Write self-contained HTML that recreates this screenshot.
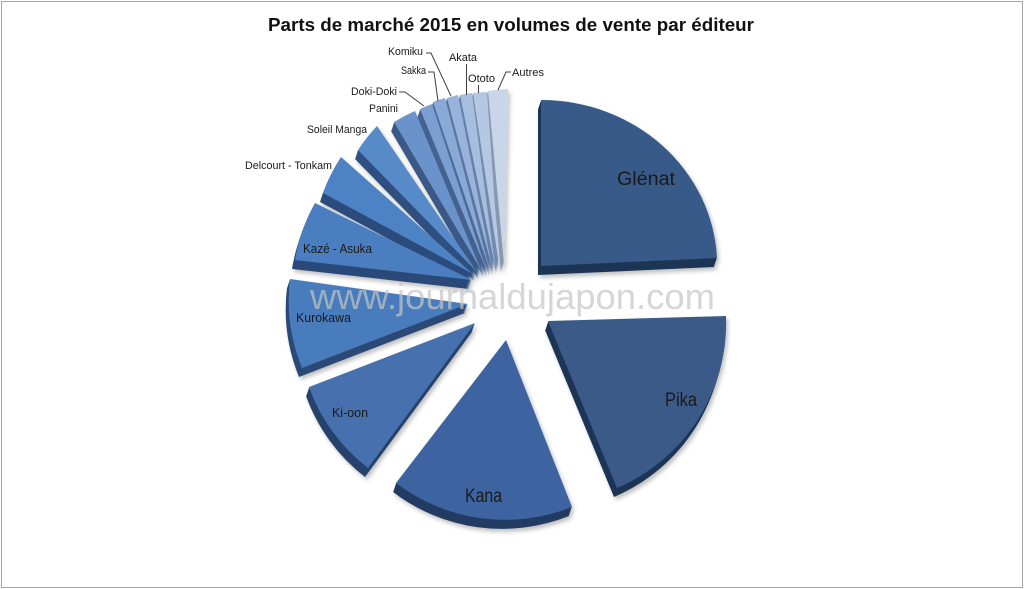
<!DOCTYPE html>
<html>
<head>
<meta charset="utf-8">
<style>
  html,body{margin:0;padding:0;background:#fff;}
  svg{display:block;}
  .lbl{font-family:"Liberation Sans",sans-serif;fill:#1a1a1a;}
</style>
</head>
<body>
<svg width="1024" height="589" viewBox="0 0 1024 589" xmlns="http://www.w3.org/2000/svg">
  <defs>
    <filter id="sh" x="-10%" y="-10%" width="120%" height="120%">
      <feDropShadow dx="2" dy="3" stdDeviation="2" flood-color="#000" flood-opacity="0.25"/>
    </filter>
    <path id="gl" d="M541,266 L541,100 A176,166 0 0 1 717,258 Z"/>
    <path id="pi" d="M548,321 L726,316 A179.5,179.5 0 0 1 617,488 Z"/>
    <path id="ka" d="M506,340 L572,507 A180,180 0 0 1 396,483 Z"/>
    <path id="ki" d="M475,323 L368,468 A179,179 0 0 1 309,387 Z"/>
    <path id="ku" d="M468,304 L302,368 A179,179 0 0 1 290,279 Z"/>
    <path id="kz" d="M472,280 L295,260 A176.5,176.5 0 0 1 315,203 Z"/>
    <path id="de" d="M473,274 L323,193 A173,173 0 0 1 341,157 Z"/>
    <path id="so" d="M477,272 L358,150 A173.5,173.5 0 0 1 377,126 Z"/>
    <path id="pa" d="M481,270 L394,122 A172,172 0 0 1 415,111 Z"/>
    <path id="do" d="M486,269 L420,109 A173,173 0 0 1 432,104 Z"/>
    <path id="sa" d="M489,268 L433,102 A175,175 0 0 1 445,98 Z"/>
    <path id="ko" d="M492,267 L447,98 A175,175 0 0 1 458,95 Z"/>
    <path id="ak" d="M495,266 L460,95 A174.5,174.5 0 0 1 472,93 Z"/>
    <path id="ot" d="M499,265 L473,93 A174,174 0 0 1 487,92 Z"/>
    <path id="au" d="M504,264 L488,91 A174,174 0 0 1 508,89 Z"/>
  </defs>

  <rect x="0" y="0" width="1024" height="589" fill="#fff"/>
  <rect x="1.5" y="1.5" width="1021" height="586" fill="none" stroke="#a6a6a6" stroke-width="1"/>

  <text x="268" y="31" font-family="Liberation Sans, sans-serif" font-weight="bold" font-size="18" fill="#111" textLength="486" lengthAdjust="spacingAndGlyphs">Parts de marché 2015 en volumes de vente par éditeur</text>

  <g filter="url(#sh)">
    <g fill="#8898b2"><use href="#au" transform="translate(-0.33,1)"/><use href="#au" transform="translate(-0.67,2)"/><use href="#au" transform="translate(-1,3)"/><use href="#au" transform="translate(-1.33,4)"/><use href="#au" transform="translate(-1.67,5)"/><use href="#au" transform="translate(-2,6)"/><use href="#au" transform="translate(-2.33,7)"/><use href="#au" transform="translate(-2.67,8)"/><use href="#au" transform="translate(-3,9)"/></g>
    <use href="#au" fill="#c9d5e8"/>
    <g fill="#738cae"><use href="#ot" transform="translate(-0.33,1)"/><use href="#ot" transform="translate(-0.67,2)"/><use href="#ot" transform="translate(-1,3)"/><use href="#ot" transform="translate(-1.33,4)"/><use href="#ot" transform="translate(-1.67,5)"/><use href="#ot" transform="translate(-2,6)"/><use href="#ot" transform="translate(-2.33,7)"/><use href="#ot" transform="translate(-2.67,8)"/><use href="#ot" transform="translate(-3,9)"/></g>
    <use href="#ot" fill="#b6c7e4"/>
    <g fill="#6681a8"><use href="#ak" transform="translate(-0.33,1)"/><use href="#ak" transform="translate(-0.67,2)"/><use href="#ak" transform="translate(-1,3)"/><use href="#ak" transform="translate(-1.33,4)"/><use href="#ak" transform="translate(-1.67,5)"/><use href="#ak" transform="translate(-2,6)"/><use href="#ak" transform="translate(-2.33,7)"/><use href="#ak" transform="translate(-2.67,8)"/><use href="#ak" transform="translate(-3,9)"/></g>
    <use href="#ak" fill="#a7bee0"/>
    <g fill="#5a769f"><use href="#ko" transform="translate(-0.33,1)"/><use href="#ko" transform="translate(-0.67,2)"/><use href="#ko" transform="translate(-1,3)"/><use href="#ko" transform="translate(-1.33,4)"/><use href="#ko" transform="translate(-1.67,5)"/><use href="#ko" transform="translate(-2,6)"/><use href="#ko" transform="translate(-2.33,7)"/><use href="#ko" transform="translate(-2.67,8)"/><use href="#ko" transform="translate(-3,9)"/></g>
    <use href="#ko" fill="#99b3dc"/>
    <g fill="#4e6a96"><use href="#sa" transform="translate(-0.33,1)"/><use href="#sa" transform="translate(-0.67,2)"/><use href="#sa" transform="translate(-1,3)"/><use href="#sa" transform="translate(-1.33,4)"/><use href="#sa" transform="translate(-1.67,5)"/><use href="#sa" transform="translate(-2,6)"/><use href="#sa" transform="translate(-2.33,7)"/><use href="#sa" transform="translate(-2.67,8)"/><use href="#sa" transform="translate(-3,9)"/></g>
    <use href="#sa" fill="#89a9d6"/>
    <g fill="#45628f"><use href="#do" transform="translate(-0.33,1)"/><use href="#do" transform="translate(-0.67,2)"/><use href="#do" transform="translate(-1,3)"/><use href="#do" transform="translate(-1.33,4)"/><use href="#do" transform="translate(-1.67,5)"/><use href="#do" transform="translate(-2,6)"/><use href="#do" transform="translate(-2.33,7)"/><use href="#do" transform="translate(-2.67,8)"/><use href="#do" transform="translate(-3,9)"/></g>
    <use href="#do" fill="#7b9fd2"/>
    <g fill="#3a5986"><use href="#pa" transform="translate(-0.33,1)"/><use href="#pa" transform="translate(-0.67,2)"/><use href="#pa" transform="translate(-1,3)"/><use href="#pa" transform="translate(-1.33,4)"/><use href="#pa" transform="translate(-1.67,5)"/><use href="#pa" transform="translate(-2,6)"/><use href="#pa" transform="translate(-2.33,7)"/><use href="#pa" transform="translate(-2.67,8)"/><use href="#pa" transform="translate(-3,9)"/></g>
    <use href="#pa" fill="#6b93cb"/>
    <g fill="#2f507f"><use href="#so" transform="translate(-0.33,1)"/><use href="#so" transform="translate(-0.67,2)"/><use href="#so" transform="translate(-1,3)"/><use href="#so" transform="translate(-1.33,4)"/><use href="#so" transform="translate(-1.67,5)"/><use href="#so" transform="translate(-2,6)"/><use href="#so" transform="translate(-2.33,7)"/><use href="#so" transform="translate(-2.67,8)"/><use href="#so" transform="translate(-3,9)"/></g>
    <use href="#so" fill="#568ac8"/>
    <g fill="#2c4c7c"><use href="#de" transform="translate(-0.33,1)"/><use href="#de" transform="translate(-0.67,2)"/><use href="#de" transform="translate(-1,3)"/><use href="#de" transform="translate(-1.33,4)"/><use href="#de" transform="translate(-1.67,5)"/><use href="#de" transform="translate(-2,6)"/><use href="#de" transform="translate(-2.33,7)"/><use href="#de" transform="translate(-2.67,8)"/><use href="#de" transform="translate(-3,9)"/></g>
    <use href="#de" fill="#4e83c5"/>
    <g fill="#2b4a79"><use href="#kz" transform="translate(-0.33,1)"/><use href="#kz" transform="translate(-0.67,2)"/><use href="#kz" transform="translate(-1,3)"/><use href="#kz" transform="translate(-1.33,4)"/><use href="#kz" transform="translate(-1.67,5)"/><use href="#kz" transform="translate(-2,6)"/><use href="#kz" transform="translate(-2.33,7)"/><use href="#kz" transform="translate(-2.67,8)"/><use href="#kz" transform="translate(-3,9)"/></g>
    <use href="#kz" fill="#4b7ec0"/>
    <g fill="#2a4877"><use href="#ku" transform="translate(-0.33,1)"/><use href="#ku" transform="translate(-0.67,2)"/><use href="#ku" transform="translate(-1,3)"/><use href="#ku" transform="translate(-1.33,4)"/><use href="#ku" transform="translate(-1.67,5)"/><use href="#ku" transform="translate(-2,6)"/><use href="#ku" transform="translate(-2.33,7)"/><use href="#ku" transform="translate(-2.67,8)"/><use href="#ku" transform="translate(-3,9)"/></g>
    <use href="#ku" fill="#4a7bbd"/>
    <g fill="#27426c"><use href="#ki" transform="translate(-0.33,1)"/><use href="#ki" transform="translate(-0.67,2)"/><use href="#ki" transform="translate(-1,3)"/><use href="#ki" transform="translate(-1.33,4)"/><use href="#ki" transform="translate(-1.67,5)"/><use href="#ki" transform="translate(-2,6)"/><use href="#ki" transform="translate(-2.33,7)"/><use href="#ki" transform="translate(-2.67,8)"/><use href="#ki" transform="translate(-3,9)"/></g>
    <use href="#ki" fill="#4670ae"/>
    <g fill="#223a62"><use href="#ka" transform="translate(-0.33,1)"/><use href="#ka" transform="translate(-0.67,2)"/><use href="#ka" transform="translate(-1,3)"/><use href="#ka" transform="translate(-1.33,4)"/><use href="#ka" transform="translate(-1.67,5)"/><use href="#ka" transform="translate(-2,6)"/><use href="#ka" transform="translate(-2.33,7)"/><use href="#ka" transform="translate(-2.67,8)"/><use href="#ka" transform="translate(-3,9)"/></g>
    <use href="#ka" fill="#3e63a0"/>
    <g fill="#1f3556"><use href="#pi" transform="translate(-0.33,1)"/><use href="#pi" transform="translate(-0.67,2)"/><use href="#pi" transform="translate(-1,3)"/><use href="#pi" transform="translate(-1.33,4)"/><use href="#pi" transform="translate(-1.67,5)"/><use href="#pi" transform="translate(-2,6)"/><use href="#pi" transform="translate(-2.33,7)"/><use href="#pi" transform="translate(-2.67,8)"/><use href="#pi" transform="translate(-3,9)"/></g>
    <use href="#pi" fill="#3a5a87"/>
    <g fill="#1e3454"><use href="#gl" transform="translate(-0.33,1)"/><use href="#gl" transform="translate(-0.67,2)"/><use href="#gl" transform="translate(-1,3)"/><use href="#gl" transform="translate(-1.33,4)"/><use href="#gl" transform="translate(-1.67,5)"/><use href="#gl" transform="translate(-2,6)"/><use href="#gl" transform="translate(-2.33,7)"/><use href="#gl" transform="translate(-2.67,8)"/><use href="#gl" transform="translate(-3,9)"/></g>
    <use href="#gl" fill="#385a88"/>
  </g>

  <text class="lbl" x="617" y="185" font-size="19" textLength="58" lengthAdjust="spacingAndGlyphs">Glénat</text>
  <text class="lbl" x="665" y="406" font-size="19" textLength="32" lengthAdjust="spacingAndGlyphs">Pika</text>
  <text class="lbl" x="465" y="502" font-size="19" textLength="37" lengthAdjust="spacingAndGlyphs">Kana</text>
  <text class="lbl" x="332" y="417" font-size="13" textLength="36" lengthAdjust="spacingAndGlyphs">Ki-oon</text>
  <text class="lbl" x="296" y="322" font-size="13" textLength="55" lengthAdjust="spacingAndGlyphs">Kurokawa</text>
  <text class="lbl" x="303" y="253" font-size="13" textLength="69" lengthAdjust="spacingAndGlyphs">Kazé - Asuka</text>

  <text class="lbl" x="245" y="169" font-size="11" textLength="87" lengthAdjust="spacingAndGlyphs">Delcourt - Tonkam</text>
  <text class="lbl" x="307" y="133" font-size="11" textLength="60" lengthAdjust="spacingAndGlyphs">Soleil Manga</text>
  <text class="lbl" x="369" y="112" font-size="11" textLength="29" lengthAdjust="spacingAndGlyphs">Panini</text>
  <text class="lbl" x="351" y="95" font-size="11" textLength="46" lengthAdjust="spacingAndGlyphs">Doki-Doki</text>
  <text class="lbl" x="401" y="74" font-size="11" textLength="25" lengthAdjust="spacingAndGlyphs">Sakka</text>
  <text class="lbl" x="388" y="55" font-size="11" textLength="35" lengthAdjust="spacingAndGlyphs">Komiku</text>
  <text class="lbl" x="449" y="61" font-size="11" textLength="28" lengthAdjust="spacingAndGlyphs">Akata</text>
  <text class="lbl" x="468" y="82" font-size="11" textLength="27" lengthAdjust="spacingAndGlyphs">Ototo</text>
  <text class="lbl" x="512" y="76" font-size="11" textLength="32" lengthAdjust="spacingAndGlyphs">Autres</text>

  <g fill="none" stroke="#404040" stroke-width="1">
    <polyline points="426,53 431,53 451,96"/>
    <polyline points="428,72 434,72 438,101"/>
    <polyline points="399,92 405,92 424,106"/>
    <polyline points="466.5,64 466.5,95"/>
    <polyline points="478.5,85 478.5,93"/>
    <polyline points="511,72 506,72 498,90"/>
  </g>

  <text x="310" y="309" font-family="Liberation Sans, sans-serif" font-size="36" fill="#c4c4c4" fill-opacity="0.7" textLength="405" lengthAdjust="spacingAndGlyphs">www.journaldujapon.com</text>
</svg>
</body>
</html>
